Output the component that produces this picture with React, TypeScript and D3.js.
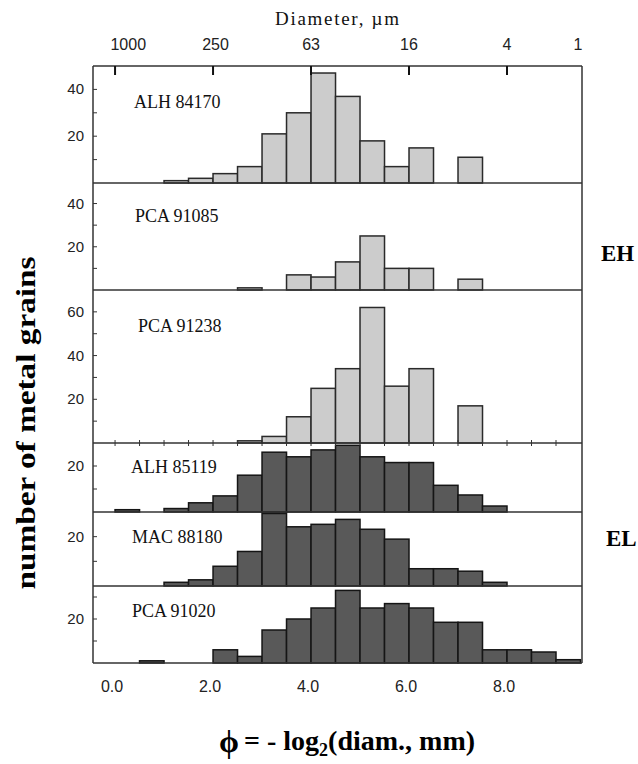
import React from "react";
import * as d3 from "d3";

// phi bins (left edges), 0.5 phi wide
const bins = [0.0, 0.5, 1.0, 1.5, 2.0, 2.5, 3.0, 3.5, 4.0, 4.5, 5.0, 5.5, 6.0, 6.5, 7.0, 7.5, 8.0, 8.5, 9.0];

const alh84170 = [0, 0, 1, 2, 4, 7, 21, 30, 47, 37, 18, 7, 15, 0, 11, 0, 0, 0, 0];
const pca91085 = [0, 0, 0, 0, 0, 1, 0, 7, 6, 13, 25, 10, 10, 0, 5, 0, 0, 0, 0];
const pca91238 = [0, 0, 0, 0, 0, 1, 3, 12, 25, 34, 62, 26, 34, 0, 17, 0, 0, 0, 0];
const alh85119 = [1, 0, 1.5, 4, 7, 16, 26, 24, 27, 29, 24, 21.5, 21.5, 11.6, 7.4, 2.6, 0, 0, 0];
const mac88180 = [0, 0, 1.5, 2.5, 8, 14, 29.4, 24, 25, 27, 23, 19, 7, 7, 6, 1.5, 0, 0, 0];
const pca91020 = [0, 1, 0, 0, 6, 3, 15, 20, 25, 33, 25, 27, 25, 18.5, 18.5, 6, 6, 5, 1.5];

const sampleNames = ["ALH 84170", "PCA 91085", "PCA 91238", "ALH 85119", "MAC 88180", "PCA 91020"];
const sampleCounts = [alh84170, pca91085, pca91238, alh85119, mac88180, pca91020];
const groups = ["EH", "EH", "EH", "EL", "EL", "EL"];
const yMaxes = [50, 49.5, 70, 30, 30, 35];
const yTicks = [[10, 20, 30, 40], [10, 20, 30, 40], [10, 20, 30, 40, 50, 60], [10, 20], [10, 20], [10, 20, 30]];
const yLabels = [[20, 40], [20, 40], [20, 40, 60], [20], [20], [20]];

const phiTicks = [0, 2, 4, 6, 8];
const phiLabels = ["0.0", "2.0", "4.0", "6.0", "8.0"];
const diamTicks = [0, 2, 4, 6, 8];
const diamLabels = ["1000", "250", "63", "16", "4", "1"];
const diamLabelPos = [0.27, 2.05, 4.0, 6.0, 8.0, 9.45];

// panel boundaries (px)
const edges = [66, 183, 290, 443, 512, 586, 663];
const labelPos = [[134, 108], [135, 222], [138, 332], [131, 473], [132, 543], [132, 617]];

const W = 638, H = 764;
const serif = "'Liberation Serif', 'Times New Roman', 'DejaVu Serif', serif";
const sans = "'Liberation Sans', Arial, sans-serif";

export default function App() {
  const x = d3.scaleLinear().domain([-0.45, 9.5]).range([93, 580.5]);
  const left = x.range()[0], right = 582;
  const minor = d3.range(0, 9.01, 0.5);

  return (
    <svg width={W} height={H} style={{ position: "absolute", left: 0, top: 0, background: "#fff" }}>
      {/* top axis */}
      <text x={337} y={25} textAnchor="middle" fontFamily={serif} fontSize={19} fill="#111"
        textLength={124} lengthAdjust="spacing">Diameter, µm</text>
      {diamLabels.map((l, i) => (
        <text key={l} x={x(diamLabelPos[i])} y={50} textAnchor="middle" fontFamily={sans} fontSize={16} fill="#222">{l}</text>
      ))}

      {sampleCounts.map((counts, p) => {
        const top = edges[p], bottom = edges[p + 1];
        const y = d3.scaleLinear().domain([0, yMaxes[p]]).range([bottom, top]);
        const dark = groups[p] === "EL";
        return (
          <g key={sampleNames[p]}>
            {counts.map((v, i) => v > 0 && (
              <rect key={i} x={x(bins[i])} y={y(v)} width={x(bins[i] + 0.5) - x(bins[i])} height={bottom - y(v)}
                fill={dark ? "#595959" : "#cccccc"} stroke={dark ? "#151515" : "#2a2a2a"} strokeWidth={1.5} />
            ))}
            {yTicks[p].map(t => (
              <line key={t} x1={left} x2={left + 4} y1={y(t)} y2={y(t)} stroke="#333" strokeWidth={1} />
            ))}
            {yLabels[p].map(t => (
              <text key={t} x={84} y={y(t) + 5} textAnchor="end" fontFamily={sans} fontSize={15} fill="#222">{t}</text>
            ))}
            <text x={labelPos[p][0]} y={labelPos[p][1]} fontFamily={serif} fontSize={18} fill="#111">{sampleNames[p]}</text>
            <line x1={left} x2={right} y1={bottom} y2={bottom} stroke="#333" strokeWidth={1.5} />
          </g>
        );
      })}

      {/* frame */}
      <line x1={left} x2={right} y1={edges[0]} y2={edges[0]} stroke="#333" strokeWidth={1.5} />
      <line x1={left} x2={left} y1={edges[0]} y2={edges[6]} stroke="#333" strokeWidth={1.5} />
      <line x1={right} x2={right} y1={edges[0]} y2={edges[6]} stroke="#333" strokeWidth={1.5} />
      {diamTicks.map(t => (
        <line key={t} x1={x(t)} x2={x(t)} y1={edges[0]} y2={edges[0] + 9} stroke="#111" strokeWidth={2} />
      ))}
      {minor.map(t => (
        <line key={t} x1={x(t)} x2={x(t)} y1={edges[3] - 3} y2={edges[3] + 3} stroke="#333" strokeWidth={1} />
      ))}

      {/* bottom axis */}
      {phiTicks.map((t, i) => (
        <text key={t} x={x(t) - 3} y={692} textAnchor="middle" fontFamily={sans} fontSize={16} fill="#222">{phiLabels[i]}</text>
      ))}

      <text x={219} y={752} fontFamily={serif} fontWeight="bold" fontSize={32} fill="#000">ϕ</text>
      <text x={244} y={750} fontFamily={serif} fontWeight="bold" fontSize={28} fill="#000">
        = - log<tspan fontSize={18} dy={6}>2</tspan><tspan dy={-6}>(diam., mm)</tspan>
      </text>

      <text transform="translate(35,423) rotate(-90)" textAnchor="middle" fontFamily={serif} fontWeight="bold"
        fontSize={28} fill="#000" textLength={333} lengthAdjust="spacingAndGlyphs">number of metal grains</text>

      <text x={601} y={261} fontFamily={serif} fontWeight="bold" fontSize={23} fill="#000">EH</text>
      <text x={606} y={546} fontFamily={serif} fontWeight="bold" fontSize={23} fill="#000">EL</text>
    </svg>
  );
}
